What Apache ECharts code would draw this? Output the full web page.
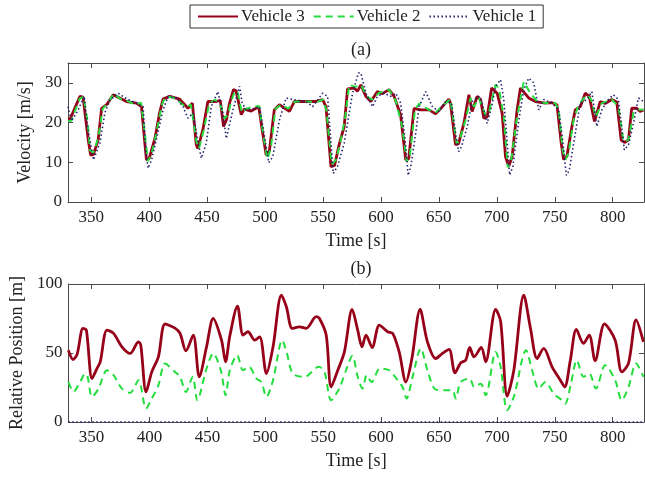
<!DOCTYPE html>
<html>
<head>
<meta charset="utf-8">
<script src="https://cdn.jsdelivr.net/npm/echarts@6/dist/echarts.min.js"></script>
<style>
  html, body { margin: 0; padding: 0; background: #fff; }
  #chart { width: 645px; height: 480px; }
</style>
</head>
<body>
<div id="chart"></div>
<script>
// x ticks and y ticks
const timeTicks = [350, 400, 450, 500, 550, 600, 650, 700, 750, 800];
const velTicks = [0, 10, 20, 30];
const posTicks = [0, 50, 100];

// (a) velocity [m/s], [time, value]
const velV3 = [[330,20.9],[332,21],[340.3,26.6],[343,26.4],[347.5,15.6],[349.5,11.8],[352,12],[356,15.6],[359,23.6],[363.3,24.5],[369,27],[380.5,25.3],[389,24.9],[393.4,24],[396.3,14.8],[397.7,10.6],[400,10.9],[405,16],[409,22.4],[412,25.9],[417.8,26.6],[426.4,25.9],[433.5,23.6],[437.3,24.9],[440.7,14.4],[442,13.5],[446.4,18.2],[450.7,25.3],[457.8,25.3],[461.4,25.6],[464.2,19],[466.6,20.6],[469.4,24.9],[472.8,28.3],[475,28],[479.5,22],[482,23.4],[488,22.9],[494.6,24],[498,17.3],[501,11.8],[503.8,12.9],[508,23.2],[512.4,24.5],[521,22.8],[525.3,25.3],[535.3,25.3],[544,25.3],[549.7,25.8],[552.6,24],[556.9,8.9],[560,9.2],[564,14.5],[568.3,19],[571.2,28.5],[576.9,28.7],[579.8,27.9],[582.7,29.5],[587,26.6],[591.3,25.3],[597,27.8],[601.3,27.3],[607,28.3],[611.4,26.6],[617,21.9],[621.4,10.6],[624,10.9],[628.6,23.6],[634,23.2],[641.5,23.2],[647.2,22.2],[653,24],[658.7,25.9],[660,24.9],[664.4,14.4],[667,14.7],[671.6,19.8],[675.9,27],[678.7,22.8],[683,26.6],[686,25.8],[688.8,21.1],[691.7,21.4],[695.5,28.7],[700.3,27.4],[704.6,22.4],[707.5,11.4],[710.3,9],[713.2,11.4],[717.5,23.2],[720.4,28.7],[727.5,26.2],[733.3,25.3],[741.9,24.9],[747.6,25],[751.9,24.5],[755.6,14.8],[757.6,10.7],[760.5,11.5],[764.8,19],[767.7,23.2],[772,24],[776.3,27.4],[779.8,26.6],[784.3,20.3],[789.2,25.3],[793.5,24.8],[799.2,25.8],[803.5,25.2],[807.3,15.6],[810.2,15],[813.6,15.6],[816.4,23.6],[820.7,23.6],[823.6,22.8],[826.5,23.2]];

const velV2 = [[330,20.3],[333,20.5],[340,26],[343.5,26.5],[347,20],[349,13],[352,12.5],[356,16],[360,23.5],[364,24.8],[369.5,27.3],[375,26],[381,25.5],[388,24.5],[393,25],[396,18],[399,10.3],[402,12],[406,17],[411,24.5],[414,26.5],[420,26.4],[427,25],[432,23.8],[436,24.5],[441,15],[443,13.5],[447,18],[452,25],[457,25.7],[461,25],[465,21],[468,22],[471,25.5],[474,28],[476.5,27.5],[480,22.5],[484,23.5],[490,24],[495,24.2],[499,16],[502,10.8],[505,13.5],[509,23.5],[514,24.5],[520,23.5],[526,25.3],[535,25.3],[545,25.2],[550,25.8],[553,23],[557.5,9.5],[561,10.5],[565,15],[569,21],[572.6,29.5],[574,30],[578,29],[582.7,29.5],[588,26.6],[592.3,25.8],[598.5,27.5],[607,28.3],[612.8,25.5],[618.5,18.8],[622.2,10.2],[624.8,11.4],[629.4,23.2],[633,24.8],[641.5,23.2],[647.2,22.5],[655.8,24.9],[660,25.9],[665.3,14.8],[667.3,15.1],[673,20.6],[677.3,26.2],[680.2,24],[684.5,26.2],[690.3,21.9],[693.1,22.4],[698.9,29.5],[701.8,28.7],[706,21.4],[709.5,8.7],[712.4,10.6],[717.5,21.4],[723.2,30.3],[729,27.4],[734.7,25.3],[741.9,24.9],[750.5,24.9],[753.4,23.2],[756.8,13.1],[759,10.6],[761.9,12.3],[766.2,20.6],[770.5,24.5],[777.7,27],[781.4,25.8],[785.4,21.4],[790.6,24.9],[799.2,25.8],[805,24],[809.3,15.2],[813.6,15.6],[817.9,22.4],[822.2,23.2],[826.5,23.2]];

const velV1 = [[330,24],[333,20.4],[338.5,23],[344,26.6],[346.8,19],[352,10.6],[353.3,10.2],[357.5,14.8],[361.8,22.4],[366,25.6],[373.3,27.4],[380.5,26],[389,24.9],[394.8,24],[397.1,13],[399.1,8.5],[402,10.5],[407.7,17.6],[412,23.2],[416.4,26.6],[423.6,26.2],[429.3,24],[433.5,21.1],[437.8,22.4],[441.3,16.6],[445,11],[449.3,14.8],[453.6,24],[459.3,27.8],[463.6,22.4],[466.6,16],[472.3,23.2],[478,29.1],[480.3,24.9],[483.7,23.2],[489.4,23.4],[495.2,24],[499.5,16.6],[503.2,9.9],[506.7,11.4],[512.4,20.6],[518.2,26.2],[523.9,25.8],[535.3,25.3],[541.1,24],[549.7,27.4],[554,26.6],[556.9,14.8],[558.9,7.2],[562.6,9],[568.3,14.8],[575.5,27.4],[580.6,32.5],[582.7,32.5],[587,27.4],[592.7,24],[597,26.6],[602.7,27.4],[608.5,26.6],[612.8,27.4],[617,24.9],[620.9,15.6],[623.5,6.7],[625.7,8.8],[630,17.3],[632.9,24],[638.6,27.8],[644.4,24],[650,22.8],[655.8,25.3],[661,24.9],[664.4,17.3],[667,12.7],[669.6,14],[674.5,19],[678.7,25.3],[684.5,26.6],[687.3,24.9],[691.6,19.8],[695.5,24],[698.9,29.1],[703.2,30.8],[706,25.8],[709,14.8],[711,6.8],[713.8,8.8],[719,20.6],[723.2,28.3],[727.5,31.2],[731.9,30],[736.2,23.2],[740.5,25.8],[747.6,24.9],[753.4,23.2],[756.8,15.6],[760,6.7],[762.5,8],[767.7,17.3],[772,24.9],[777.7,25.8],[782,27.8],[786.3,19],[790.6,23.2],[796.3,25.8],[800.6,27],[804.9,25.8],[808.4,17.3],[810,13.1],[813.6,14.4],[817.9,19.8],[822.2,26.2],[826.5,25.3]];

// (b) relative position [m], [time, value]
const posV3 = [[330,52],[334,45.3],[337.5,49],[342.6,67.8],[345.5,66.6],[350.4,31.5],[354.7,38.8],[357.5,43.6],[363.3,66.6],[369,64.2],[376.2,54.5],[383.3,49.7],[390.5,58.1],[392.5,55.7],[397.1,21.8],[402,36.3],[407.7,47.2],[413.5,71],[422,68],[426.4,64.2],[431.5,51.6],[437.8,63],[443,32.7],[449.3,54.5],[455,75],[462.2,59.3],[465.7,43.6],[469.4,62.5],[476,84],[480.8,63],[485,65.4],[490.9,59.3],[495.2,61.7],[501,35.1],[506.7,54.5],[513.9,92],[518.2,83.5],[523.3,67.8],[529.5,69],[535.3,67.8],[544,76.3],[546.8,75],[552.6,63],[556.9,25.4],[562.6,37.5],[568.3,50.8],[575,81.6],[579.8,66.6],[583.5,54.5],[587,63],[592.3,54],[598.5,70.2],[605.6,65.4],[610,64.2],[615.6,50.8],[621.4,29],[626.5,45.6],[633.7,81.6],[640,58.1],[647.2,46],[653,49.7],[658.7,52.6],[663.8,35.6],[668.7,42.8],[673,44.8],[676.5,54],[680.2,47.2],[686.5,54],[690.3,43.6],[698.9,81.6],[703.2,72.8],[708.9,18.7],[714.6,37.5],[723.2,92],[729,67.8],[734.7,46],[740.4,53.3],[747.6,40],[754.8,30.3],[758.5,25.4],[763.4,44.8],[768.6,67.1],[774.8,57],[779.7,63],[784.8,44.3],[792.9,71],[802.1,59.3],[807.8,36.3],[813.6,42.5],[820.2,73.9],[826.5,58]];

const posV2 = [[330,29],[334.5,22],[340,29],[344.6,35.1],[346.6,32.7],[350.4,18.2],[356,24.2],[363.3,37.5],[369,33.9],[376.2,24.2],[383.3,21.1],[390.5,30.3],[397.1,9.7],[402,17],[407.7,26.6],[413.5,42.4],[422,36.3],[426.4,32.7],[431.5,21.8],[437.3,32.7],[441.3,15.8],[449.3,38.8],[455,49.7],[461.6,37.5],[465.7,19.4],[469.4,37.5],[475.7,48.4],[480.8,37.5],[485.9,40],[492.3,31.5],[496.6,29],[501,18.2],[506.7,30.3],[514.7,59.3],[518.7,49.7],[523.8,35.1],[533.8,32.7],[546.2,40],[551.1,36.3],[556.9,15.8],[564,24.5],[569.7,37.5],[575.2,48],[579.8,32.7],[584,24.2],[587.5,33.9],[591.8,29],[599,38.8],[607,37.5],[614.2,30.3],[618.5,25.4],[622,17],[627.2,32.7],[634.3,53.3],[640,37.5],[647.2,23.5],[655.8,23],[661.6,23],[664.4,17],[668.7,29],[676.5,31.5],[680.2,25.4],[686,27.8],[690.3,19.4],[698.9,50.8],[703.2,40],[708.9,8.5],[714.6,18.2],[725.2,52],[730.4,37.5],[736.1,24.2],[741.9,29],[749,20.6],[756.2,15.8],[759,13.3],[763.9,27.8],[769.1,44.8],[774.8,32.7],[779.7,35.1],[785.5,24.2],[793.5,41.2],[802.1,30.3],[807.8,15.8],[813.6,25.4],[820.2,42.4],[826.5,32.7]];

const posV1 = [[330,0],[827,0]];

const names = ['Vehicle 3', 'Vehicle 2', 'Vehicle 1'];
const colors = ['#960018', '#22dd3c', '#23236e'];

const FONT = 'Liberation Serif';
const AXIS_COLOR = '#4a4a4a';

const chart = echarts.init(document.getElementById('chart'), null, { renderer: 'canvas' });

function xAxisFor(gridIndex, top) {
    return {
        type: 'value', gridIndex: gridIndex, min: 330, max: 827,
        position: top ? 'top' : 'bottom',
        name: top ? '' : 'Time [s]',
        nameLocation: 'middle', nameGap: 30,
        nameTextStyle: { fontFamily: FONT, fontSize: 18, color: '#222' },
        axisLine: { show: true, onZero: false, lineStyle: { color: AXIS_COLOR, width: 1 } },
        axisTick: { show: true, inside: true, length: 5, customValues: timeTicks, lineStyle: { color: AXIS_COLOR } },
        axisLabel: { show: !top, customValues: timeTicks, fontFamily: FONT, fontSize: 17, color: '#222', margin: 7 },
        splitLine: { show: false }
    };
}

function yAxisFor(gridIndex, right, max, ticks, name, gap) {
    return {
        type: 'value', gridIndex: gridIndex, min: 0, max: max,
        position: right ? 'right' : 'left',
        name: right ? '' : name,
        nameLocation: 'middle', nameGap: gap,
        nameTextStyle: { fontFamily: FONT, fontSize: 18, color: '#222' },
        axisLine: { show: true, onZero: false, lineStyle: { color: AXIS_COLOR, width: 1 } },
        axisTick: { show: true, inside: true, length: 5, customValues: ticks, lineStyle: { color: AXIS_COLOR } },
        axisLabel: { show: !right, customValues: ticks, fontFamily: FONT, fontSize: 17, color: '#222', margin: 6 },
        splitLine: { show: false }
    };
}

function lineSeries(i, data, xi, yi) {
    const dash = [null, [7, 5], [1.5, 2.5]][i];
    return {
        name: names[i], type: 'line', data: data,
        xAxisIndex: xi, yAxisIndex: yi,
        symbol: 'none', smooth: yi === 2 ? 0.3 : false,
        clip: true,
        color: colors[i],
        lineStyle: { color: colors[i], width: [2.8, 2, 1.6][i], type: dash || 'solid' },
        z: 2 + i
    };
}

const option = {
    backgroundColor: '#fff',
    animation: false,
    textStyle: { fontFamily: FONT },
    title: [
        { text: '(a)', left: 356, top: 36, textAlign: 'center', textStyle: { fontFamily: FONT, fontSize: 18, fontWeight: 'normal', color: '#222' } },
        { text: '(b)', left: 356, top: 255, textAlign: 'center', textStyle: { fontFamily: FONT, fontSize: 18, fontWeight: 'normal', color: '#222' } }
    ],
    legend: {
        data: names, left: 190, top: 5,
        borderColor: '#333', borderWidth: 1, padding: [3, 7, 3, 7],
        itemGap: 8, itemWidth: 40, itemHeight: 10,
        itemStyle: { opacity: 0 },
        textStyle: { fontFamily: FONT, fontSize: 17, color: '#222', padding: [0, 0, 0, -2] }
    },
    grid: [
        { left: 68, right: 1, top: 63, height: 139 },
        { left: 68, right: 1, top: 284, height: 138 }
    ],
    xAxis: [xAxisFor(0, false), xAxisFor(1, false), xAxisFor(0, true), xAxisFor(1, true)],
    yAxis: [
        yAxisFor(0, false, 35, velTicks, 'Velocity [m/s]', 34),
        yAxisFor(0, true, 35, velTicks, '', 0),
        yAxisFor(1, false, 100, posTicks, 'Relative Position [m]', 40),
        yAxisFor(1, true, 100, posTicks, '', 0)
    ],
    series: [
        lineSeries(0, velV3, 0, 0),
        lineSeries(1, velV2, 0, 0),
        lineSeries(2, velV1, 0, 0),
        lineSeries(0, posV3, 1, 2),
        lineSeries(1, posV2, 1, 2),
        Object.assign(lineSeries(2, posV1, 1, 2), { clip: false })
    ]
};

chart.setOption(option);
</script>
</body>
</html>
